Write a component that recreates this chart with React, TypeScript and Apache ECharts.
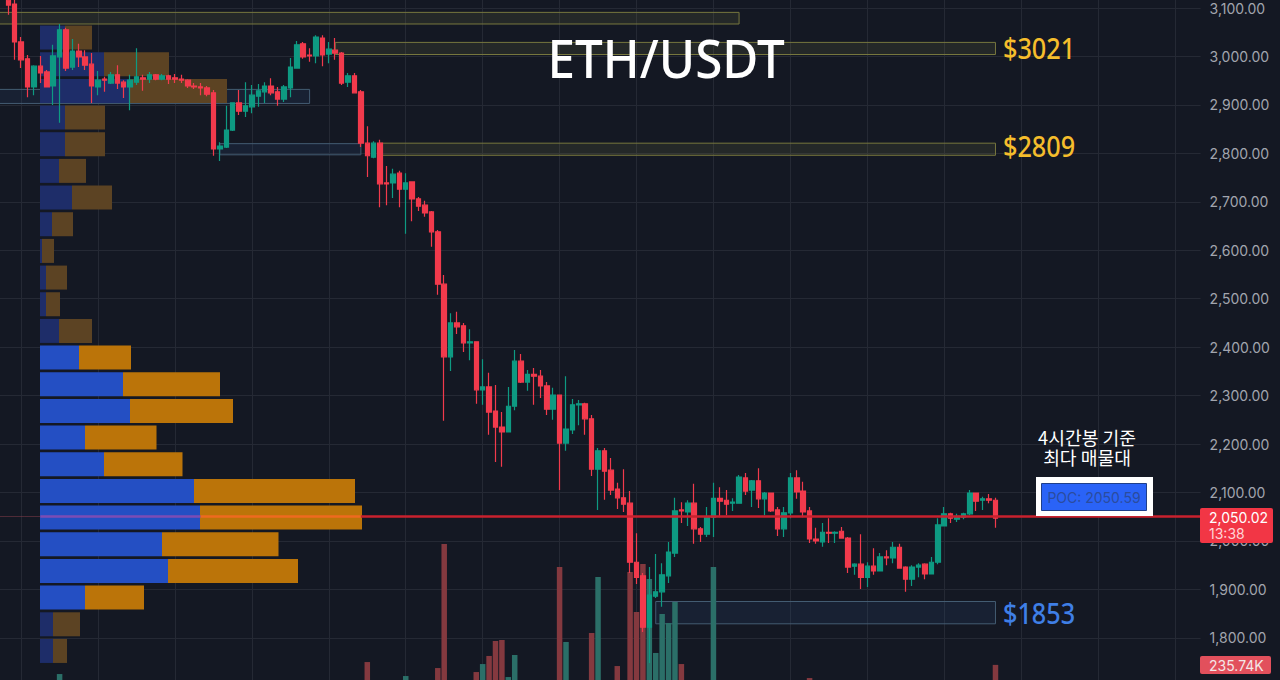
import { useEffect, useRef } from "react";
import * as echarts from "echarts";

// candles, oldest first
const opens = [
  3116, 3108, 3030, 2995, 2937, 2980, 2968, 2939, 2999, 3055, 2978, 3011, 2999, 2984, 2937, 2953,
  2945, 2962, 2947, 2937, 2947, 2956, 2953, 2962, 2953, 2960, 2956, 2953, 2951, 2939, 2937, 2935,
  2925, 2809, 2813, 2848, 2904, 2887, 2896, 2918, 2927, 2939, 2927, 2912, 2935, 2976, 3026, 3003,
  3001, 3038, 3005, 3013, 3007, 2947, 2960, 2927, 2821, 2792, 2821, 2739, 2739, 2759, 2726, 2741,
  2706, 2693, 2679, 2638, 2530, 2380, 2450, 2444, 2409, 2411, 2312, 2318, 2268, 2235, 2225, 2278,
  2371, 2328, 2344, 2340, 2320, 2272, 2301, 2202, 2229, 2281, 2283, 2252, 2148, 2186, 2146, 2107,
  2089, 2078, 1956, 1928, 1822, 1886, 1895, 1928, 1975, 2064, 2060, 2078, 2025, 2014, 2049, 2088,
  2084, 2078, 2078, 2130, 2105, 2124, 2087, 2099, 2064, 2025, 2058, 2130, 2103, 2062, 2004, 1998,
  2018, 2016, 2020, 2006, 1948, 1952, 1925, 1948, 1938, 1967, 1965, 1987, 1946, 1921, 1946, 1952,
  1932, 1956, 2031, 2056, 2045, 2049, 2056, 2099, 2084, 2087, 2084,
];
const closes = [
  3106, 3030, 2993, 2937, 2980, 2966, 2937, 3001, 3055, 2976, 3011, 2999, 2982, 2939, 2951, 2951,
  2962, 2945, 2937, 2951, 2958, 2953, 2962, 2953, 2960, 2953, 2953, 2951, 2939, 2937, 2935, 2922,
  2809, 2815, 2848, 2904, 2887, 2898, 2920, 2929, 2939, 2925, 2912, 2937, 2978, 3024, 2999, 3001,
  3040, 3003, 3015, 3007, 2945, 2960, 2925, 2821, 2795, 2821, 2737, 2737, 2757, 2726, 2739, 2706,
  2691, 2677, 2638, 2530, 2380, 2450, 2442, 2409, 2411, 2312, 2318, 2266, 2235, 2225, 2278, 2371,
  2328, 2344, 2340, 2320, 2272, 2301, 2202, 2231, 2281, 2283, 2252, 2148, 2186, 2144, 2105, 2089,
  2076, 1956, 1925, 1822, 1888, 1895, 1930, 1977, 2062, 2062, 2078, 2025, 2014, 2049, 2088, 2082,
  2076, 2080, 2132, 2103, 2124, 2087, 2099, 2062, 2025, 2058, 2130, 2101, 2060, 2004, 2000, 2018,
  2016, 2018, 2006, 1946, 1952, 1925, 1948, 1938, 1967, 1965, 1987, 1944, 1921, 1946, 1950, 1932,
  1956, 2033, 2056, 2047, 2051, 2056, 2099, 2082, 2087, 2084, 2047,
];
const lows = [
  3086, 2993, 2976, 2916, 2920, 2945, 2937, 2900, 2863, 2970, 2972, 2978, 2972, 2904, 2920, 2927,
  2943, 2933, 2914, 2889, 2941, 2929, 2945, 2951, 2951, 2943, 2945, 2945, 2935, 2933, 2920, 2918,
  2795, 2784, 2811, 2846, 2879, 2875, 2883, 2896, 2904, 2920, 2898, 2906, 2916, 2976, 2995, 2989,
  2986, 2980, 2986, 2993, 2941, 2937, 2925, 2813, 2751, 2790, 2689, 2693, 2708, 2689, 2634, 2660,
  2681, 2669, 2607, 2508, 2248, 2351, 2427, 2390, 2373, 2283, 2281, 2219, 2163, 2153, 2225, 2270,
  2326, 2310, 2281, 2295, 2260, 2250, 2105, 2186, 2221, 2239, 2219, 2134, 2064, 2085, 2095, 2066,
  2060, 1934, 1911, 1812, 1748, 1882, 1864, 1913, 1967, 2037, 2031, 1994, 1998, 2008, 2008, 2049,
  2053, 2062, 2078, 2095, 2070, 2068, 2053, 2060, 2010, 2008, 2047, 2087, 2049, 1996, 1994, 1988,
  1996, 1996, 2006, 1934, 1930, 1901, 1905, 1930, 1938, 1950, 1954, 1944, 1895, 1907, 1925, 1921,
  1932, 1952, 2031, 2037, 2039, 2045, 2053, 2062, 2064, 2078, 2027,
];
const highs = [
  3122, 3118, 3040, 3003, 2982, 3001, 2972, 3024, 3067, 3059, 3036, 3026, 3013, 3007, 2970, 2958,
  2968, 2982, 2951, 2962, 3017, 2962, 2968, 2964, 2964, 2962, 2964, 2962, 2953, 2945, 2945, 2939,
  2931, 2823, 2898, 2904, 2931, 2947, 2941, 2943, 2947, 2955, 2937, 2941, 2997, 3032, 3030, 3017,
  3044, 3044, 3030, 3038, 3009, 2966, 2966, 2931, 2856, 2825, 2828, 2774, 2768, 2764, 2759, 2741,
  2710, 2702, 2681, 2642, 2549, 2470, 2473, 2450, 2437, 2411, 2375, 2347, 2322, 2266, 2318, 2394,
  2386, 2353, 2357, 2353, 2328, 2316, 2301, 2340, 2293, 2291, 2285, 2260, 2192, 2192, 2171, 2120,
  2148, 2103, 2016, 1934, 1946, 1973, 1954, 1998, 2089, 2080, 2084, 2118, 2029, 2070, 2120, 2111,
  2105, 2088, 2136, 2140, 2126, 2150, 2101, 2099, 2070, 2070, 2140, 2146, 2122, 2070, 2027, 2037,
  2047, 2020, 2029, 2008, 1954, 2014, 1956, 1985, 1975, 1981, 1998, 1994, 1948, 1950, 1954, 1954,
  1967, 2047, 2070, 2058, 2056, 2058, 2105, 2099, 2091, 2097, 2089,
];

// volume in thousands, only the bars that reach into the frame
const volumeCandles = [
  8, 56, 62, 67, 68, 73, 74, 75, 76, 77, 78, 79, 86, 87, 91, 92, 95, 97, 98, 99, 100, 101, 102, 103,
  104, 105, 110, 125, 154,
];
const volumeValues = [
  135, 267, 113, 201, 1566, 157, 245, 334, 499, 510, 102, 345, 1313, 488, 587, 1203, 223, 1258, 818,
  1346, 1181, 367, 796, 697, 928, 245, 1313, 91, 235.74,
];

// volume profile, top row first
const profileBuy = [
  250, 640, 900, 250, 250, 190, 320, 120, 20, 60, 60, 190, 390, 830, 900, 450, 640, 1540, 1600, 1220,
  1280, 450, 130, 130,
];
const profileSell = [
  270, 650, 970, 400, 400, 270, 400, 210, 120, 210, 140, 330, 520, 970, 1030, 715, 785, 1610, 1620,
  1165, 1300, 590, 270, 140,
];
const valueAreaFirst = 12;
const valueAreaLast = 21;

const LEAD = 2;
const SLOTS = 189;
const CURRENT_PRICE = 2050.02;
const FONT = "Inter, 'Noto Sans', sans-serif";
const HEADLINE_FONT = "'Noto Sans', sans-serif";

const UP = "#0e9a82";
const DOWN = "#f23a4c";

const categories = Array.from({ length: SLOTS }, (_, i) => String(i));

const candleData = [
  ...Array.from({ length: LEAD }, () => ["-", "-", "-", "-"]),
  ...opens.map((o, i) => [o, closes[i], lows[i], highs[i]]),
];

const volumeData = candleData.map((_, slot) => {
  const at = volumeCandles.indexOf(slot - LEAD);
  if (at < 0) return 0;
  const c = slot - LEAD;
  return {
    value: volumeValues[at],
    itemStyle: { color: closes[c] >= opens[c] ? "#2b6f68" : "#84393f" },
  };
});

const profileStyle = (values: number[], bright: string, faded: string) =>
  values.map((value, row) => ({
    value,
    itemStyle: { color: row >= valueAreaFirst && row <= valueAreaLast ? bright : faded },
  }));

const zone = (x0: number, x1: number, p0: number, p1: number, fill: string, stroke: string) => [
  { xAxis: x0, yAxis: p0, itemStyle: { color: fill, borderColor: stroke, borderWidth: 1 } },
  { xAxis: x1, yAxis: p1 },
];

// the style goes on both ends, ECharts merges them into one line
const priceSegment = (x0: number, x1: number, color: string, type = "solid", width = 2.5) => {
  const lineStyle = { color, type, width, opacity: 1 };
  return [
    { xAxis: x0, yAxis: CURRENT_PRICE, lineStyle },
    { xAxis: x1, yAxis: CURRENT_PRICE, lineStyle },
  ];
};

const YELLOW_FILL = "rgba(190,190,90,0.1)";
const YELLOW_LINE = "#77773e";
const BLUE_FILL = "rgba(50,95,150,0.14)";
const BLUE_LINE = "#435c72";

const label = (text: string, x: number, y: number, fontSize: number, fill: string, extra = {}, scaleX = 1) => ({
  type: "text",
  x,
  y,
  scaleX,
  z: 50,
  silent: true,
  style: {
    text,
    fontSize,
    fill,
    fontFamily: FONT,
    textVerticalAlign: "middle",
    ...extra,
  },
});

const App = () => {
  const chartRef = useRef<HTMLDivElement>(null);

  useEffect(() => {
    const chart = echarts.init(chartRef.current, null, { renderer: "svg" });

    chart.setOption({
      animation: false,
      backgroundColor: "#141823",
      grid: [
        { left: -4.5, width: 1205.1, top: -40.45, height: 726.75, outerBoundsMode: "none" },
        { left: 40, width: 1000, top: 24.2, height: 640.1, outerBoundsMode: "none" },
      ],
      xAxis: [
        {
          type: "category",
          data: categories,
          boundaryGap: false,
          axisLine: { show: false },
          axisTick: { show: false },
          axisLabel: { show: false },
          splitLine: {
            show: true,
            interval: (i: number) => (i - 4) % 12 === 0,
            lineStyle: { color: "#252934", width: 1 },
          },
        },
        { type: "value", gridIndex: 1, min: 0, max: 10000, show: false },
      ],
      yAxis: [
        {
          type: "value",
          position: "right",
          min: 1700,
          max: 3200,
          interval: 100,
          axisLine: { show: false },
          axisTick: { show: false },
          axisLabel: {
            margin: 9,
            color: "#a2a5ae",
            fontSize: 14,
            fontFamily: FONT,
            showMinLabel: false,
            showMaxLabel: false,
            formatter: (v: number) =>
              v.toLocaleString("en-US", { minimumFractionDigits: 2, maximumFractionDigits: 2 }),
          },
          splitLine: { show: true, lineStyle: { color: "#252934", width: 1 } },
        },
        { type: "value", min: 0, max: 8000, show: false },
        {
          type: "category",
          gridIndex: 1,
          inverse: true,
          data: profileBuy.map((_, i) => String(i)),
          show: false,
        },
      ],
      series: [
        {
          name: "Buy",
          type: "bar",
          xAxisIndex: 1,
          yAxisIndex: 2,
          stack: "profile",
          barWidth: 24,
          z: 1,
          silent: true,
          data: profileStyle(profileBuy, "#244fc3", "#1e2d69"),
        },
        {
          name: "Sell",
          type: "bar",
          xAxisIndex: 1,
          yAxisIndex: 2,
          stack: "profile",
          barWidth: 24,
          z: 1,
          silent: true,
          data: profileStyle(profileSell, "#bb7409", "#5c4323"),
        },
        {
          name: "Volume",
          type: "bar",
          xAxisIndex: 0,
          yAxisIndex: 1,
          barWidth: 5.5,
          z: 2,
          silent: true,
          data: volumeData,
        },
        {
          name: "ETH/USDT",
          type: "candlestick",
          xAxisIndex: 0,
          yAxisIndex: 0,
          barWidth: 5,
          z: 3,
          silent: true,
          itemStyle: {
            color: UP,
            color0: DOWN,
            borderColor: UP,
            borderColor0: DOWN,
            borderWidth: 1.2,
          },
          data: candleData,
          markArea: {
            silent: true,
            data: [
              zone(0, 116, 3091, 3067, YELLOW_FILL, YELLOW_LINE),
              zone(53, 156, 3029, 3004, YELLOW_FILL, YELLOW_LINE),
              zone(60, 156, 2821, 2796, YELLOW_FILL, YELLOW_LINE),
              zone(0, 49, 2932, 2903, BLUE_FILL, BLUE_LINE),
              zone(35, 57, 2820, 2797, BLUE_FILL, BLUE_LINE),
              zone(103, 156, 1875, 1829, BLUE_FILL, BLUE_LINE),
            ],
          },
          markLine: {
            silent: true,
            symbol: "none",
            label: { show: false },
            lineStyle: { width: 2.5, type: "solid", color: "#c9212e" },
            data: [
              priceSegment(0, 7, "#8a3f4c", "dotted", 1),
              priceSegment(7, 32, "#7c4cb4"),
              priceSegment(32, 57, "#ee6a1f"),
              priceSegment(57, 188, "#c9212e"),
            ],
          },
        },
      ],
      graphic: [
        label("ETH/USDT", 547.5, 58, 52, "#ffffff", { fontFamily: HEADLINE_FONT, fontWeight: 500 }, 0.95),
        label("$3021", 1003, 48, 29, "#f5bd2c", { fontFamily: HEADLINE_FONT, fontWeight: 500 }, 0.87),
        label("$2809", 1003, 146, 29, "#f5bd2c", { fontFamily: HEADLINE_FONT, fontWeight: 500 }, 0.87),
        label("$1853", 1003, 613, 29, "#3f7fe6", { fontFamily: HEADLINE_FONT, fontWeight: 500 }, 0.87),
        label("4시간봉 기준\n최다 매물대", 1087, 447, 18.2, "#ffffff", {
          fontFamily: "'Noto Sans CJK KR', sans-serif",
          textAlign: "center",
          lineHeight: 20,
        }),
        {
          type: "rect",
          z: 49,
          silent: true,
          shape: { x: 1036, y: 477, width: 117, height: 39 },
          style: { fill: "#ffffff" },
        },
        {
          type: "rect",
          z: 49,
          silent: true,
          shape: { x: 1041.5, y: 483.5, width: 105, height: 27 },
          style: { fill: "#2a63f7", stroke: "#1f3f8a", lineWidth: 1 },
        },
        label("POC: 2050.59", 1094, 497, 14, "#2b4c9e", { textAlign: "center" }),
        {
          type: "rect",
          z: 49,
          silent: true,
          shape: { x: 1200, y: 508, width: 73, height: 35, r: 2 },
          style: { fill: "#f23645" },
        },
        label("2,050.02", 1209, 517, 14, "#ffffff"),
        label("13:38", 1209, 533, 14, "#ffd3d6"),
        {
          type: "rect",
          z: 49,
          silent: true,
          shape: { x: 1200, y: 656, width: 71, height: 18, r: 2 },
          style: { fill: "#e2505c" },
        },
        label("235.74K", 1209, 665, 14, "#f4e6e7"),
      ],
    });

    return () => {
      chart.dispose();
    };
  }, []);

  return (
    <div
      ref={chartRef}
      style={{ position: "fixed", left: 0, top: 0, width: 1280, height: 680 }}
    />
  );
};

export default App;
